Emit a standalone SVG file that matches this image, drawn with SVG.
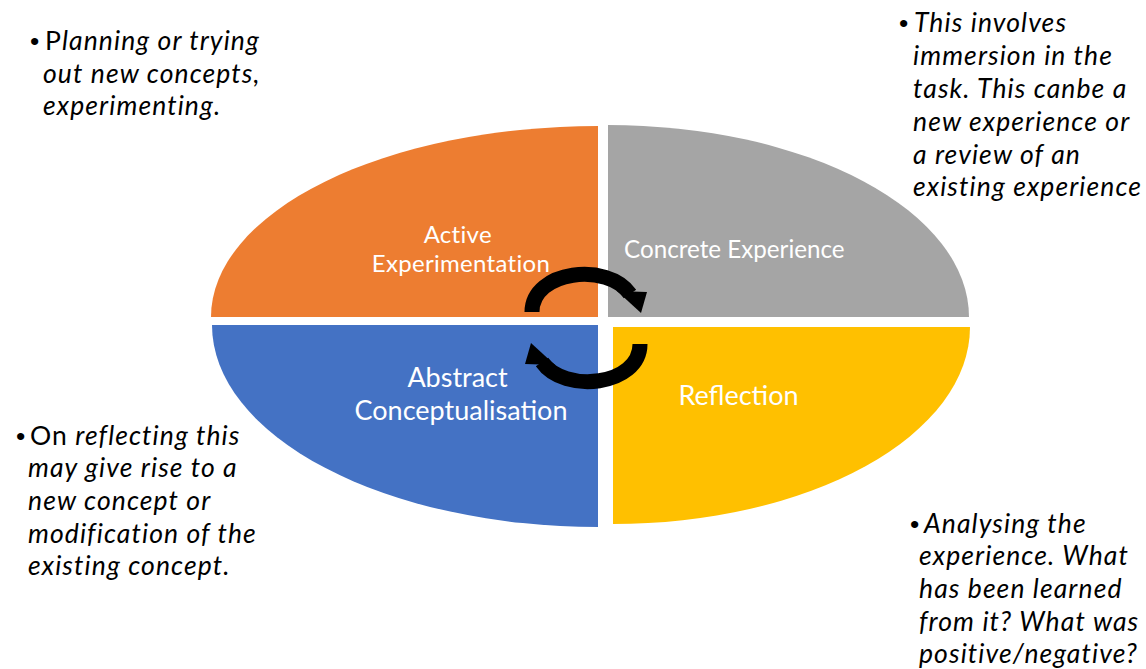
<svg xmlns="http://www.w3.org/2000/svg" width="1146" height="669" viewBox="0 0 1146 669">
  <style>
    .label { font-family: Lato, "Open Sans", "Liberation Sans", sans-serif; fill: #ffffff; }
    .note { font-family: Lato, "Open Sans", "Liberation Sans", sans-serif; font-style: italic; font-size: 26.5px; letter-spacing: 1.1px; fill: #000000; }
    .up { font-style: normal; }
    .dot { font-family: "Liberation Sans", Arial, sans-serif; font-style: normal; letter-spacing: 0; }
    .arrow-shaft { fill: none; stroke: #000000; stroke-width: 15; }
    .arrow-head { fill: #000000; }
  </style>
  <rect width="1146" height="669" fill="#ffffff"/>

  <!-- Four quadrants of the cycle -->
  <g id="active-experimentation">
    <path d="M598,317 L211,317 A387,191 0 0 1 598,126 Z" fill="#ED7D31"/>
    <text class="label" font-size="24" text-anchor="middle" letter-spacing="0.3">
      <tspan x="461" y="243">Active</tspan>
      <tspan x="461" y="272">Experimentation</tspan>
    </text>
  </g>

  <g id="concrete-experience">
    <path d="M608,317 L608,125 A361,192 0 0 1 969,317 Z" fill="#A5A5A5"/>
    <text class="label" font-size="24.2" x="624" y="258">Concrete Experience</text>
  </g>

  <g id="abstract-conceptualisation">
    <path d="M598,325 L212,325 A386,202 0 0 0 598,527 Z" fill="#4472C4"/>
    <text class="label" font-size="27" text-anchor="middle">
      <tspan x="461" y="387">Abstract</tspan>
      <tspan x="461" y="420">Conceptualisation</tspan>
    </text>
  </g>

  <g id="reflection">
    <path d="M613,327 L970,327 A357,197 0 0 1 613,524 Z" fill="#FFC000"/>
    <text class="label" font-size="27" x="738.5" y="405" text-anchor="middle">Reflection</text>
  </g>

  <!-- Circular arrows in the centre -->
  <g id="connectors">
    <path class="arrow-shaft" d="M532,312 C532,270 608,262 630,294"/>
    <polygon class="arrow-head" points="617,291 647,292 641,313"/>
    <path class="arrow-shaft" d="M640,344 C640,386 564,394 542,362"/>
    <polygon class="arrow-head" points="555,365 525,364 531,343"/>
  </g>

  <!-- Descriptive notes -->
  <g id="note-active">
    <text class="note">
      <tspan x="30" y="50" class="dot">•</tspan><tspan x="45" class="up">P</tspan><tspan>lanning or trying</tspan>
      <tspan x="43" y="83">out new concepts,</tspan>
      <tspan x="43" y="115">experimenting.</tspan>
    </text>
  </g>

  <g id="note-concrete">
    <text class="note">
      <tspan x="899" y="32" class="dot">•</tspan><tspan x="914">This involves</tspan>
      <tspan x="913" y="65">immersion in the</tspan>
      <tspan x="913" y="98">task. This canbe a</tspan>
      <tspan x="913" y="131">new experience or</tspan>
      <tspan x="913" y="164">a review of an</tspan>
      <tspan x="913" y="196">existing experience</tspan>
    </text>
  </g>

  <g id="note-abstract">
    <text class="note">
      <tspan x="16" y="445" class="dot">•</tspan><tspan x="30" class="up">On</tspan><tspan> reflecting this</tspan>
      <tspan x="28" y="477">may give rise to a</tspan>
      <tspan x="28" y="510">new concept or</tspan>
      <tspan x="28" y="543">modification of the</tspan>
      <tspan x="28" y="575">existing concept.</tspan>
    </text>
  </g>

  <g id="note-reflection">
    <text class="note">
      <tspan x="910" y="533" class="dot">•</tspan><tspan x="924">Analysing the</tspan>
      <tspan x="919" y="565">experience. What</tspan>
      <tspan x="919" y="598">has been learned</tspan>
      <tspan x="919" y="631">from it? What was</tspan>
      <tspan x="919" y="663">positive/negative?</tspan>
    </text>
  </g>
</svg>
